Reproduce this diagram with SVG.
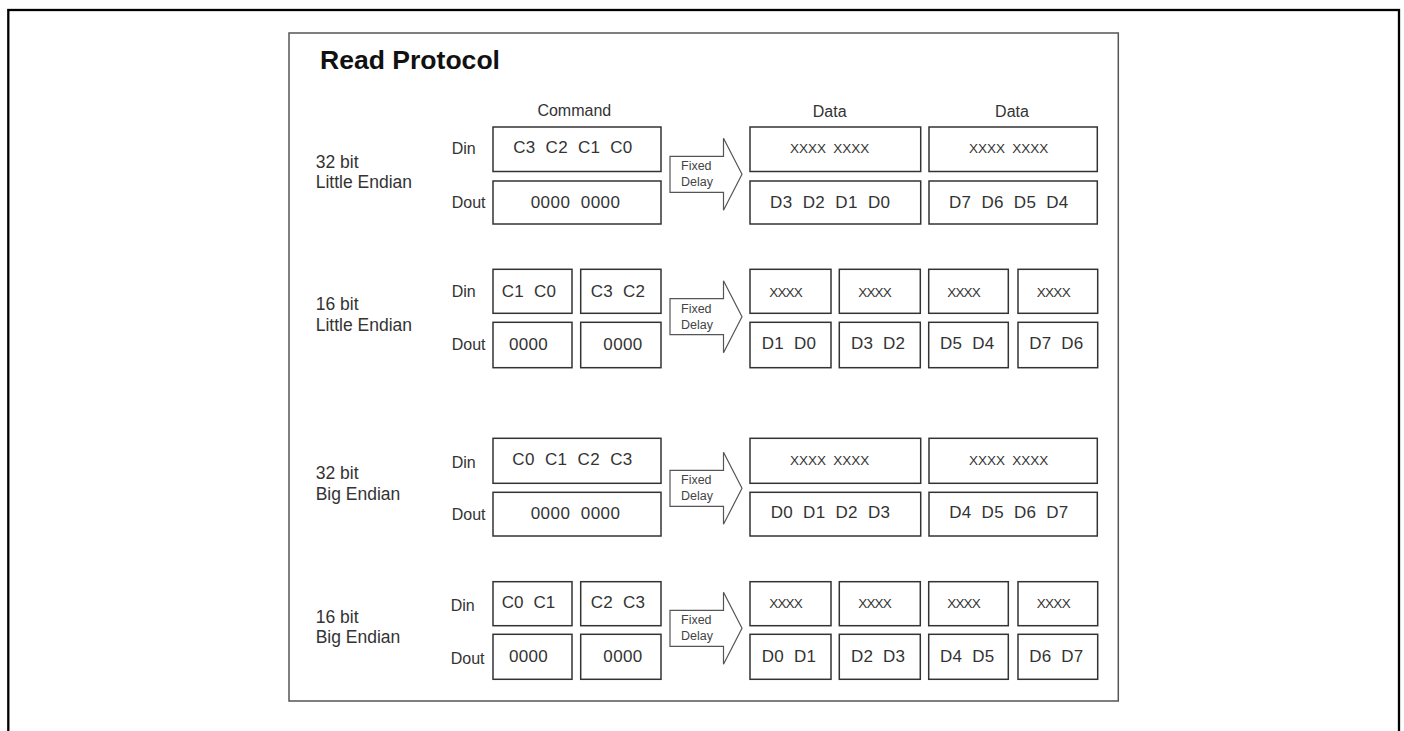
<svg xmlns="http://www.w3.org/2000/svg" width="1404" height="731" viewBox="0 0 1404 731">
<style>
text{font-family:"Liberation Sans",Arial,sans-serif;fill:#333;white-space:pre}
.title{font-size:25.5px;font-weight:bold;fill:#111}
.lbl{font-size:17.5px}
.io{font-size:16px}
.hdr{font-size:16px;text-anchor:middle}
.bt{font-size:17px}
.xt{font-size:13.5px}
.fd{font-size:12.5px;fill:#444}
.box{fill:#fff;stroke:#333;stroke-width:1.5}
.arrow{fill:#fff;stroke:#555;stroke-width:1.2}
</style>
<defs>
<path id="arr" d="M0,-18 H53.5 V-36 L72,0 L53.5,36 V18 H0 Z"/>
</defs>
<rect x="0" y="0" width="1404" height="731" fill="#fff"/>
<rect id="outer-frame" x="8.3" y="10" width="1390.7" height="740" fill="none" stroke="#000" stroke-width="2.3"/>
<rect id="inner-frame" x="289" y="33" width="829.3" height="668" fill="#fff" stroke="#555" stroke-width="1.5"/>
<text class="title" x="320" y="69" textLength="180" lengthAdjust="spacingAndGlyphs">Read Protocol</text>

<g id="headers">
<text class="hdr" x="574.3" y="116">Command</text>
<text class="hdr" x="829.7" y="116.7">Data</text>
<text class="hdr" x="1012" y="117.3">Data</text>
</g>

<!-- Row 1: 32 bit Little Endian -->
<g id="row1-label"><text class="lbl" x="315.7" y="167.7">32 bit</text><text class="lbl" x="315.7" y="187.7">Little Endian</text></g>
<g id="row1-io"><text class="io" x="451.7" y="154.3">Din</text><text class="io" x="451.7" y="207.7">Dout</text></g>
<g id="r1-cmd-din"><rect class="box" x="493" y="127" width="168" height="44.5"/><text class="bt" x="513.3" y="153.3" textLength="119">C3  C2  C1  C0</text></g>
<g id="r1-cmd-dout"><rect class="box" x="493" y="181" width="168" height="43"/><text class="bt" x="530.7" y="207.7" textLength="89.3">0000  0000</text></g>
<g id="r1-d1-din"><rect class="box" x="750" y="127" width="170.7" height="44.5"/><text class="xt" x="790" y="152.7" textLength="79.3">XXXX  XXXX</text></g>
<g id="r1-d1-dout"><rect class="box" x="750" y="181" width="170.7" height="43"/><text class="bt" x="770" y="207.7" textLength="120">D3  D2  D1  D0</text></g>
<g id="r1-d2-din"><rect class="box" x="929" y="127" width="168.3" height="44.5"/><text class="xt" x="969" y="152.7" textLength="79.3">XXXX  XXXX</text></g>
<g id="r1-d2-dout"><rect class="box" x="929" y="181" width="168.3" height="43"/><text class="bt" x="949" y="207.7" textLength="119.3">D7  D6  D5  D4</text></g>

<!-- Row 2: 16 bit Little Endian -->
<g id="row2-label"><text class="lbl" x="315.7" y="310">16 bit</text><text class="lbl" x="315.7" y="331">Little Endian</text></g>
<g id="row2-io"><text class="io" x="451.7" y="297.3">Din</text><text class="io" x="451.7" y="350">Dout</text></g>
<g id="r2-cmd-din-a"><rect class="box" x="493" y="269.3" width="79" height="44"/><text class="bt" x="501.7" y="297.3" textLength="54.3">C1  C0</text></g>
<g id="r2-cmd-din-b"><rect class="box" x="580.7" y="269.3" width="80.3" height="44"/><text class="bt" x="590.7" y="297.3" textLength="54.3">C3  C2</text></g>
<g id="r2-cmd-dout-a"><rect class="box" x="493" y="322.3" width="79" height="45.4"/><text class="bt" x="509" y="350" textLength="38.7">0000</text></g>
<g id="r2-cmd-dout-b"><rect class="box" x="580.7" y="322.3" width="80.3" height="45.4"/><text class="bt" x="603.3" y="350" textLength="39">0000</text></g>
<g id="r2-d1-din"><rect class="box" x="750" y="269.3" width="81" height="44"/><text class="xt" x="769.3" y="296.7" textLength="33.4">XXXX</text></g>
<g id="r2-d2-din"><rect class="box" x="839.3" y="269.3" width="81" height="44"/><text class="xt" x="858.3" y="296.7" textLength="33.4">XXXX</text></g>
<g id="r2-d3-din"><rect class="box" x="928.7" y="269.3" width="79.6" height="44"/><text class="xt" x="947.3" y="296.7" textLength="33.4">XXXX</text></g>
<g id="r2-d4-din"><rect class="box" x="1018" y="269.3" width="79.7" height="44"/><text class="xt" x="1036.7" y="296.7" textLength="34">XXXX</text></g>
<g id="r2-d1-dout"><rect class="box" x="750" y="322.3" width="81" height="45.4"/><text class="bt" x="761.7" y="349.3" textLength="54.3">D1  D0</text></g>
<g id="r2-d2-dout"><rect class="box" x="839.3" y="322.3" width="81" height="45.4"/><text class="bt" x="851" y="349.3" textLength="54">D3  D2</text></g>
<g id="r2-d3-dout"><rect class="box" x="928.7" y="322.3" width="79.6" height="45.4"/><text class="bt" x="940" y="349.3" textLength="54.3">D5  D4</text></g>
<g id="r2-d4-dout"><rect class="box" x="1018" y="322.3" width="79.7" height="45.4"/><text class="bt" x="1029.3" y="349.3" textLength="54">D7  D6</text></g>

<!-- Row 3: 32 bit Big Endian -->
<g id="row3-label"><text class="lbl" x="315.7" y="479.3">32 bit</text><text class="lbl" x="315.7" y="500">Big Endian</text></g>
<g id="row3-io"><text class="io" x="451.7" y="467.7">Din</text><text class="io" x="451.7" y="520">Dout</text></g>
<g id="r3-cmd-din"><rect class="box" x="493" y="438.3" width="168" height="45"/><text class="bt" x="512.3" y="465" textLength="120">C0  C1  C2  C3</text></g>
<g id="r3-cmd-dout"><rect class="box" x="493" y="492.3" width="168" height="43.7"/><text class="bt" x="530.7" y="519.3" textLength="89.3">0000  0000</text></g>
<g id="r3-d1-din"><rect class="box" x="750" y="438.3" width="170.7" height="45"/><text class="xt" x="790" y="465" textLength="79.3">XXXX  XXXX</text></g>
<g id="r3-d1-dout"><rect class="box" x="750" y="492.3" width="170.7" height="43.7"/><text class="bt" x="770.7" y="518.3" textLength="119.3">D0  D1  D2  D3</text></g>
<g id="r3-d2-din"><rect class="box" x="929" y="438.3" width="168.3" height="45"/><text class="xt" x="969" y="465" textLength="79.3">XXXX  XXXX</text></g>
<g id="r3-d2-dout"><rect class="box" x="929" y="492.3" width="168.3" height="43.7"/><text class="bt" x="949.3" y="518.3" textLength="119">D4  D5  D6  D7</text></g>

<!-- Row 4: 16 bit Big Endian -->
<g id="row4-label"><text class="lbl" x="315.7" y="622.7">16 bit</text><text class="lbl" x="315.7" y="643.3">Big Endian</text></g>
<g id="row4-io"><text class="io" x="450.7" y="610.7">Din</text><text class="io" x="450.7" y="664">Dout</text></g>
<g id="r4-cmd-din-a"><rect class="box" x="493" y="581.7" width="79" height="44"/><text class="bt" x="501.7" y="608.3" textLength="53.6">C0  C1</text></g>
<g id="r4-cmd-din-b"><rect class="box" x="580.7" y="581.7" width="80.3" height="44"/><text class="bt" x="590.7" y="608.3" textLength="54.3">C2  C3</text></g>
<g id="r4-cmd-dout-a"><rect class="box" x="493" y="634.3" width="79" height="45"/><text class="bt" x="509" y="661.7" textLength="38.7">0000</text></g>
<g id="r4-cmd-dout-b"><rect class="box" x="580.7" y="634.3" width="80.3" height="45"/><text class="bt" x="603.3" y="661.7" textLength="39">0000</text></g>
<g id="r4-d1-din"><rect class="box" x="750" y="581.7" width="81" height="44"/><text class="xt" x="769.3" y="608.3" textLength="33.4">XXXX</text></g>
<g id="r4-d2-din"><rect class="box" x="839.3" y="581.7" width="81" height="44"/><text class="xt" x="858.3" y="608.3" textLength="33.4">XXXX</text></g>
<g id="r4-d3-din"><rect class="box" x="928.7" y="581.7" width="79.6" height="44"/><text class="xt" x="947.3" y="608.3" textLength="33.4">XXXX</text></g>
<g id="r4-d4-din"><rect class="box" x="1018" y="581.7" width="79.7" height="44"/><text class="xt" x="1036.7" y="608.3" textLength="34">XXXX</text></g>
<g id="r4-d1-dout"><rect class="box" x="750" y="634.3" width="81" height="45"/><text class="bt" x="761.7" y="661.7" textLength="54.3">D0  D1</text></g>
<g id="r4-d2-dout"><rect class="box" x="839.3" y="634.3" width="81" height="45"/><text class="bt" x="851" y="661.7" textLength="54">D2  D3</text></g>
<g id="r4-d3-dout"><rect class="box" x="928.7" y="634.3" width="79.6" height="45"/><text class="bt" x="940" y="661.7" textLength="54.3">D4  D5</text></g>
<g id="r4-d4-dout"><rect class="box" x="1018" y="634.3" width="79.7" height="45"/><text class="bt" x="1029.3" y="661.7" textLength="54">D6  D7</text></g>

<!-- Connectors: Fixed Delay arrows -->
<g id="connectors">
<g id="arrow1" transform="translate(670,174.3)"><use href="#arr" class="arrow"/><text class="fd" x="11" y="-4.3">Fixed</text><text class="fd" x="11" y="11.4">Delay</text></g>
<g id="arrow2" transform="translate(670,316.7)"><use href="#arr" class="arrow"/><text class="fd" x="11" y="-4">Fixed</text><text class="fd" x="11" y="12.6">Delay</text></g>
<g id="arrow3" transform="translate(670,488.3)"><use href="#arr" class="arrow"/><text class="fd" x="11" y="-4.3">Fixed</text><text class="fd" x="11" y="11.7">Delay</text></g>
<g id="arrow4" transform="translate(670,628.3)"><use href="#arr" class="arrow"/><text class="fd" x="11" y="-4">Fixed</text><text class="fd" x="11" y="11.7">Delay</text></g>
</g>
</svg>
